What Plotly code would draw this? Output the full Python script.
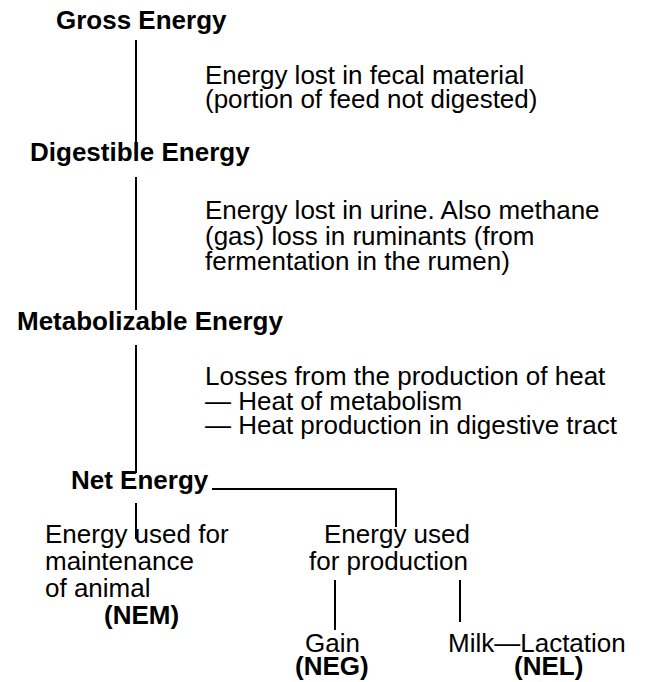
import plotly.graph_objects as go

# ---- text content ----
headings = ["Gross Energy", "Digestible Energy", "Metabolizable Energy", "Net Energy"]
loss_fecal = ["Energy lost in fecal material", "(portion of feed not digested)"]
loss_urine = ["Energy lost in urine. Also methane", "(gas) loss in ruminants (from",
              "fermentation in the rumen)"]
loss_heat = ["Losses from the production of heat", "\u2014 Heat of metabolism",
             "\u2014 Heat production in digestive tract"]
maint_lines = ["Energy used for", "maintenance", "of animal"]
prod_lines = ["Energy used", "for production"]
outputs = ["Gain", "Milk\u2014Lactation"]
codes = ["(NEM)", "(NEG)", "(NEL)"]

# ---- layout (pixel coordinates of the page, y downward) ----
W, H = 646, 682
FONT = "Liberation Sans, Arial, Helvetica, sans-serif"
REG = 26
BOLD = 26
ASC, DESC = 0.905, 0.212


def mid(baseline, size):
    return baseline - (ASC - DESC) / 2 * size


annots = []


def add(text, x, baseline, anchor="left", bold=False):
    size = BOLD if bold else REG
    annots.append(dict(
        text=f"<b>{text}</b>" if bold else text,
        x=x, y=mid(baseline, size), xref="x", yref="y",
        xanchor=anchor, yanchor="middle", showarrow=False,
        borderpad=0, borderwidth=0,
        font=dict(family=FONT, size=size, color="black"),
    ))


# headings
add(headings[0], 141, 29, "center", True)
add(headings[1], 140, 161, "center", True)
add(headings[2], 150, 330, "center", True)
add(headings[3], 209, 489, "right", True)

# loss descriptions
for i, t in enumerate(loss_fecal):
    add(t, 205, [84, 108][i])
for i, t in enumerate(loss_urine):
    add(t, 205, [219, 245, 270][i])
for i, t in enumerate(loss_heat):
    add(t, 205, [385, 410, 434][i])

# net energy branches
for i, t in enumerate(maint_lines):
    add(t, 45, [543, 570, 597][i])
add(codes[0], 141, 624, "center", True)

add(prod_lines[0], 397, 543, "center")
add(prod_lines[1], 388, 570, "center")

add(outputs[0], 332, 652, "center")
add(codes[1], 332, 675, "center", True)
add(outputs[1], 537, 652, "center")
add(codes[2], 548, 675, "center", True)

# connector lines
segments = [
    (136, 40, 136, 143),
    (136, 177, 136, 310),
    (136, 345, 136, 473),
    (136, 503, 136, 539),
    (212, 489, 397, 489),
    (396, 489, 396, 527),
    (335, 580, 335, 630),
    (460, 580, 460, 622),
]
shapes = [dict(type="line", x0=a, y0=b, x1=c, y1=d, xref="x", yref="y",
               line=dict(color="black", width=2)) for a, b, c, d in segments]

fig = go.Figure()
fig.update_layout(
    width=W, height=H,
    margin=dict(l=0, r=0, t=0, b=0),
    paper_bgcolor="white", plot_bgcolor="white",
    xaxis=dict(range=[0, W], visible=False, fixedrange=True),
    yaxis=dict(range=[H, 0], visible=False, fixedrange=True),
    annotations=annots, shapes=shapes, showlegend=False,
)
fig.write_html(
    "out.html",
    config={"displayModeBar": False},
    post_script="document.body.style.margin='0';document.body.style.overflow='hidden';",
)
